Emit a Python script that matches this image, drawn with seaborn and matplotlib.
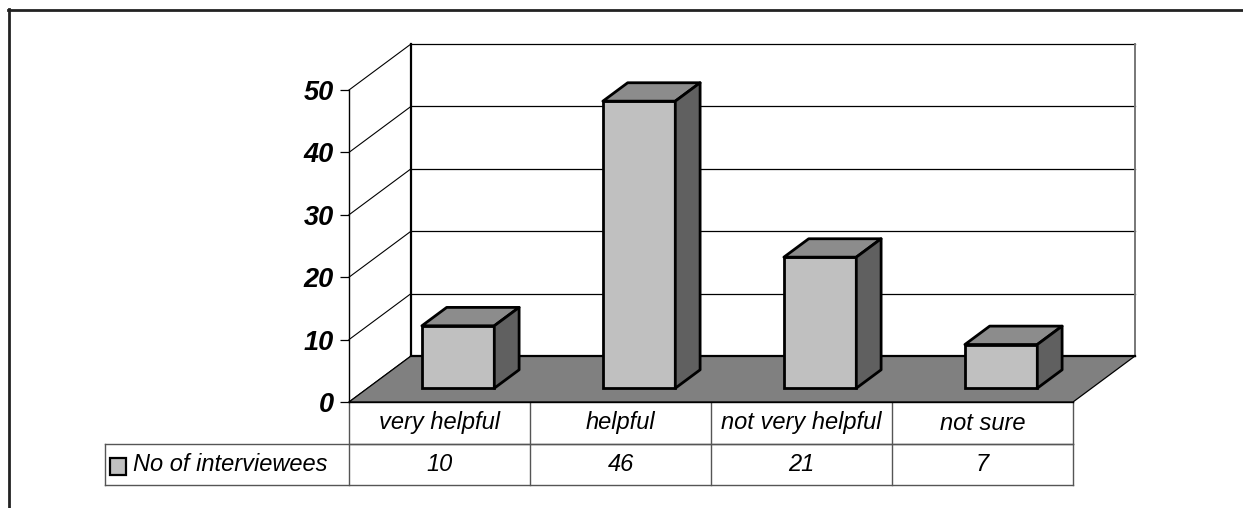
import numpy as np
import pandas as pd
import seaborn as sns
import matplotlib.pyplot as plt
from matplotlib.patches import Polygon, Rectangle
from matplotlib.lines import Line2D

# data
categories = ['very helpful', 'helpful', 'not very helpful', 'not sure']
values = [10, 46, 21, 7]
series_name = 'No of interviewees'
y_ticks = [0, 10, 20, 30, 40, 50]

df = pd.DataFrame({'answer': categories, 'count': values})

plt.rcParams['font.family'] = ['Liberation Sans', 'DejaVu Sans']

W, H = 1243, 508
fig = plt.figure(figsize=(W / 100, H / 100), dpi=100)

# front plane of the 3D box, in pixels
x_left, x_right, y_zero, y_top = 349, 1073, 402, 90
ax = fig.add_axes([x_left / W, 1 - y_zero / H, (x_right - x_left) / W, (y_zero - y_top) / H])

# depth vector in data units (62 px right, 46 px up)
px_per_cat = (x_right - x_left) / 4
px_per_val = (y_zero - y_top) / 50
DX = 62 / px_per_cat
DY = 46 / px_per_val

FRONT, TOP, SIDE = '#c0c0c0', '#8c8c8c', '#606060'

sns.barplot(data=df, x='answer', y='count', width=0.4, color=FRONT,
            edgecolor='black', linewidth=2.0, saturation=1, ax=ax, zorder=5)
bars = [p for p in ax.patches]
ax.set_xlim(-0.5, 3.5)
ax.set_ylim(0, 50)

# back wall
ax.add_patch(Rectangle((-0.5 + DX, DY), 4, 50, facecolor='white', edgecolor='none',
                       clip_on=False, zorder=0))
for v in y_ticks:
    ax.plot([-0.5 + DX, 3.5 + DX], [v + DY, v + DY], color='black', lw=0.9,
            clip_on=False, zorder=1)
    # side wall lines
    ax.plot([-0.5, -0.5 + DX], [v, v + DY], color='black', lw=0.8, clip_on=False, zorder=1)
ax.plot([-0.5 + DX, -0.5 + DX], [DY, 50 + DY], color='black', lw=1.6, clip_on=False, zorder=2)
ax.plot([3.5 + DX, 3.5 + DX], [DY, 50 + DY], color='#777777', lw=1.4, clip_on=False, zorder=2)

# floor
ax.add_patch(Polygon([(-0.5, 0), (3.5, 0), (3.5 + DX, DY), (-0.5 + DX, DY)],
                     closed=True, facecolor='#808080', edgecolor='black', lw=0.9,
                     clip_on=False, zorder=3))
ax.plot([-0.5 + DX, 3.5 + DX], [DY, DY], color='black', lw=1.6, clip_on=False, zorder=3)

# turn the flat bars into boxes
z0, dz = 0.3, 0.4
for p in bars:
    x0 = p.get_x() + z0 * DX
    y0 = z0 * DY
    w, h = p.get_width(), p.get_height()
    p.set_x(x0)
    p.set_y(y0)
    p.set_clip_on(False)
    top = Polygon([(x0, y0 + h), (x0 + w, y0 + h), (x0 + w + dz * DX, y0 + h + dz * DY),
                   (x0 + dz * DX, y0 + h + dz * DY)], closed=True, facecolor=TOP,
                  edgecolor='black', lw=2.0, joinstyle='round', clip_on=False, zorder=5)
    side = Polygon([(x0 + w, y0), (x0 + w + dz * DX, y0 + dz * DY),
                    (x0 + w + dz * DX, y0 + h + dz * DY), (x0 + w, y0 + h)], closed=True,
                   facecolor=SIDE, edgecolor='black', lw=2.0, joinstyle='round',
                   clip_on=False, zorder=5)
    ax.add_patch(top)
    ax.add_patch(side)

# axes styling
for s in ['top', 'right']:
    ax.spines[s].set_visible(False)
ax.spines['left'].set_linewidth(1.0)
ax.spines['bottom'].set_linewidth(1.0)
ax.spines['left'].set_zorder(4)
ax.spines['bottom'].set_zorder(4)
ax.set_yticks(y_ticks)
ax.set_yticklabels([str(v) for v in y_ticks], fontsize=19.5, fontweight='bold', style='italic')
ax.tick_params(axis='y', direction='out', length=6.5, width=0.9, pad=4.5)
ax.set_xticks([])
ax.set_xlabel('')
ax.set_ylabel('')
ax.patch.set_alpha(0)

# data table below the plot
tr = ax.get_xaxis_transform()
h_px = y_zero - y_top
r1 = (y_zero - 444) / h_px
r2 = (y_zero - 485) / h_px
leg_x = (105 - x_left) / px_per_cat - 0.5
lc = '#555555'
ax.plot([-0.5, 3.5], [r1, r1], color=lc, lw=1, transform=tr, clip_on=False)
ax.plot([leg_x, 3.5], [r1, r1], color=lc, lw=1, transform=tr, clip_on=False)
ax.plot([leg_x, 3.5], [r2, r2], color=lc, lw=1, transform=tr, clip_on=False)
ax.plot([leg_x, leg_x], [r1, r2], color=lc, lw=1, transform=tr, clip_on=False)
for xb in np.arange(-0.5, 4.0, 1.0):
    ax.plot([xb, xb], [0, r2], color=lc, lw=1, transform=tr, clip_on=False)
for i, (c, v) in enumerate(zip(categories, values)):
    ax.text(i, r1 / 2, c, transform=tr, ha='center', va='center', fontsize=17, style='italic')
    ax.text(i, (r1 + r2) / 2, str(v), transform=tr, ha='center', va='center', fontsize=17,
            style='italic')

# legend key + series name
key_x = (110 - x_left) / px_per_cat - 0.5
key_w = 16 / px_per_cat
ax.add_patch(Rectangle((key_x, (y_zero - 475) / h_px), key_w, 17 / h_px, transform=tr,
                       facecolor=FRONT, edgecolor='black', lw=1.6, clip_on=False))
ax.text((133 - x_left) / px_per_cat - 0.5, (r1 + r2) / 2, series_name, transform=tr,
        ha='left', va='center', fontsize=17, style='italic')

# outer frame (top and left only)
fig.add_artist(Line2D([8 / W, 1], [1 - 9.5 / H, 1 - 9.5 / H], color='#222222', lw=2.0))
fig.add_artist(Line2D([8.5 / W, 8.5 / W], [0, 1 - 9 / H], color='#222222', lw=2.0))

fig.savefig('out.png', dpi=100)
